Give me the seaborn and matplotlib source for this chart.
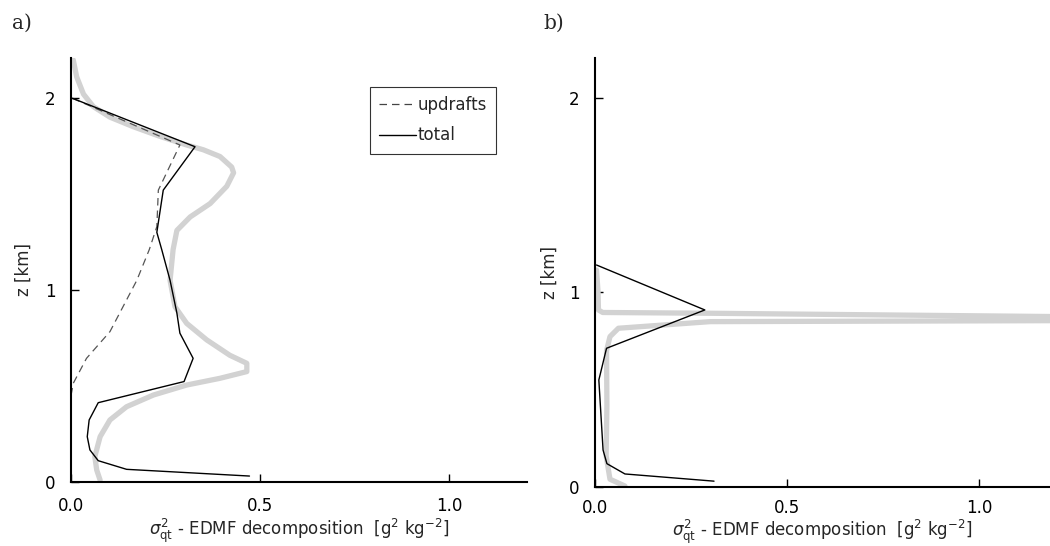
import matplotlib
matplotlib.use("Agg")
import matplotlib.pyplot as plt
import seaborn as sns
import numpy as np

# ---------------- data ----------------
# Panel a: reference (grey), total (solid), updrafts (dashed)
a_ref_x = [0.006, 0.015, 0.033, 0.059, 0.103, 0.165, 0.235, 0.306, 0.35, 0.394, 0.425, 0.43,
           0.412, 0.368, 0.315, 0.28, 0.27, 0.262, 0.275, 0.306, 0.359, 0.42, 0.465, 0.465,
           0.394, 0.306, 0.218, 0.147, 0.103, 0.077, 0.063, 0.068, 0.077]
a_ref_z = [2.198, 2.11, 2.02, 1.955, 1.90, 1.85, 1.80, 1.755, 1.73, 1.695, 1.64, 1.61,
           1.54, 1.45, 1.38, 1.31, 1.21, 1.05, 0.913, 0.826, 0.74, 0.66, 0.618, 0.575,
           0.54, 0.505, 0.453, 0.392, 0.323, 0.236, 0.132, 0.0625, 0.01]

a_tot_x = [0.004, 0.328, 0.244, 0.227, 0.24, 0.262, 0.28, 0.288, 0.323, 0.299, 0.072,
           0.048, 0.043, 0.05, 0.072, 0.147, 0.472]
a_tot_z = [1.998, 1.746, 1.52, 1.30, 1.21, 1.05, 0.88, 0.775, 0.644, 0.523, 0.413,
           0.323, 0.236, 0.167, 0.111, 0.066, 0.031]

a_upd_x = [0.004, 0.288, 0.231, 0.227, 0.207, 0.174, 0.103, 0.041, 0.006, 0.0, 0.0]
a_upd_z = [1.998, 1.755, 1.52, 1.33, 1.21, 1.05, 0.783, 0.644, 0.514, 0.45, 0.0]

# Panel b
b_ref_x = [0.004, 0.008, 0.009, 0.02, 0.3, 1.2, 1.6, 1.2, 0.3, 0.061, 0.039, 0.03,
           0.031, 0.029, 0.039, 0.078]
b_ref_z = [1.115, 1.0, 0.91, 0.897, 0.893, 0.876, 0.864, 0.855, 0.850, 0.816, 0.773, 0.70,
           0.42, 0.16, 0.04, 0.005]

b_tot_x = [0.004, 0.286, 0.03, 0.01, 0.021, 0.031, 0.078, 0.31]
b_tot_z = [1.141, 0.91, 0.713, 0.55, 0.19, 0.12, 0.067, 0.03]

xticks = [0.0, 0.5, 1.0]
xticklabels = ["0.0", "0.5", "1.0"]
yticks = [0, 1, 2]
yticklabels = ["0", "1", "2"]

# ---------------- style ----------------
sns.set_style("ticks")
plt.rcParams['font.family'] = ['DejaVu Sans']
plt.rcParams['mathtext.fontset'] = 'dejavusans'

GREY = '#d2d2d2'
FS = 12

fig = plt.figure(figsize=(10.5, 5.46), dpi=100)
axA = fig.add_axes([71/1050, 1-482/546, 456/1050, 424/546])
axB = fig.add_axes([595/1050, 1-487/546, 455/1050, 429/546])

def style(ax, xmax, ymax, xlab_y, ylab_x, xpad):
    ax.set_xlim(0, xmax)
    ax.set_ylim(0, ymax)
    for s in ['top', 'right']:
        ax.spines[s].set_visible(False)
    for s in ['left', 'bottom']:
        ax.spines[s].set_linewidth(1.5)
        ax.spines[s].set_color('black')
    ax.set_xticks(xticks)
    ax.set_xticklabels(xticklabels)
    ax.set_yticks(yticks)
    ax.set_yticklabels(yticklabels)
    ax.tick_params(direction='in', length=6, width=1.0, labelsize=FS, colors='black')
    ax.tick_params(axis='x', pad=xpad)
    ax.tick_params(axis='y', pad=11)
    ax.set_xlabel(r'$\sigma^2_{\rm qt}$ - EDMF decomposition  [g$^2$ kg$^{-2}$]', fontsize=FS)
    ax.set_ylabel('z [km]', fontsize=FS)
    ax.xaxis.set_label_coords(0.5, xlab_y)
    ax.yaxis.set_label_coords(ylab_x, 0.5)

# Panel a
sns.lineplot(x=a_ref_x, y=a_ref_z, sort=False, estimator=None, color=GREY, lw=3.8,
             ax=axA, label='_nolegend_')
sns.lineplot(x=a_upd_x, y=a_upd_z, sort=False, estimator=None, color='#555555', lw=0.9,
             ax=axA, label='updrafts')
axA.lines[-1].set_dashes((6, 4))
sns.lineplot(x=a_tot_x, y=a_tot_z, sort=False, estimator=None, color='black', lw=1.0,
             ax=axA, label='total')
style(axA, 1.206, 2.208, (482-517)/424, (33-71)/456, 11)
leg = axA.legend(loc='upper left', bbox_to_anchor=(0.656, 0.932), borderaxespad=0,
                 fontsize=FS, handlelength=2.2, handletextpad=0.1, labelspacing=0.75,
                 fancybox=False, frameon=True, borderpad=0.55)
leg.get_frame().set_edgecolor('black')
leg.get_frame().set_linewidth(0.8)
for h in leg.get_lines():
    h.set_color('#444444' if h.get_label() == 'updrafts' else 'black')

# Panel b
sns.lineplot(x=b_ref_x, y=b_ref_z, sort=False, estimator=None, color=GREY, lw=3.8,
             ax=axB, label='_nolegend_')
sns.lineplot(x=b_tot_x, y=b_tot_z, sort=False, estimator=None, color='black', lw=1.0,
             ax=axB, label='_nolegend_')
style(axB, 1.185, 2.205, (487-518)/429, (559-595)/455, 8.5)
if axB.get_legend() is not None:
    axB.get_legend().remove()

fig.text(12/1050, 1-23/546, 'a)', fontsize=14.5, family='DejaVu Serif', va='center', ha='left')
fig.text(543/1050, 1-23/546, 'b)', fontsize=14.5, family='DejaVu Serif', va='center', ha='left')

fig.savefig('out.png', dpi=100)
